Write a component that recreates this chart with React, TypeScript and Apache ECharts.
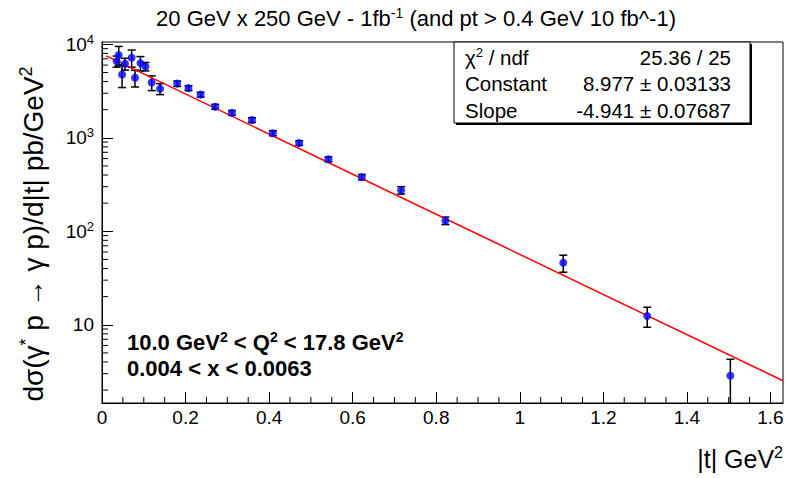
import React, { useEffect, useRef } from "react";
import * as echarts from "echarts";

// |t| bin centres (GeV^2)
const tValues = [
  0.035, 0.04, 0.048, 0.055, 0.071, 0.079, 0.092, 0.104, 0.119, 0.139,
  0.18, 0.207, 0.236, 0.271, 0.311, 0.359, 0.409, 0.472, 0.542, 0.622,
  0.716, 0.822, 1.104, 1.305, 1.504,
];
// dσ/d|t| (pb/GeV^2)
const dsigma = [
  6600, 7700, 4750, 6200, 7200, 4400, 6300, 5800, 3900, 3350,
  3800, 3400, 2900, 2150, 1850, 1550, 1120, 880, 590, 380,
  275, 130, 46, 12.4, 2.85,
];
// symmetric statistical errors
const dsigmaErr = [
  900, 1800, 1300, 900, 1500, 900, 1100, 600, 700, 450,
  250, 200, 170, 130, 110, 90, 70, 50, 35, 25,
  25, 12, 9.5, 3, 1.42,
];

// exponential fit: exp(Constant + Slope * |t|)
const fitConstant = 8.977;
const fitSlope = -4.941;
const fitRange = [0.01, 1.63];

const xRange = [0, 1.63];
const yRange = [1.455, 10600];
const xMajorStep = 0.2;
const xMinorStep = 0.05;

const statsRows = [
  { name: "{a|χ}{s|2}{a| / ndf}", value: "25.36 / 25" },
  { name: "Constant", value: "8.977 ± 0.03133" },
  { name: "Slope", value: "-4.941 ± 0.07687" },
];

const FONT = "'Liberation Sans', Arial, Helvetica, sans-serif";

function buildOption() {
  const points = tValues.map((t, i) => [t, dsigma[i]]);
  const bars = tValues.map((t, i) => [t, dsigma[i] - dsigmaErr[i], dsigma[i] + dsigmaErr[i]]);
  const fitLine = fitRange.map((t) => [t, Math.exp(fitConstant + fitSlope * t)]);

  const xMinor: number[] = [];
  for (let k = 1; k * xMinorStep < xRange[1]; k++) {
    const v = +(k * xMinorStep).toFixed(3);
    if (Math.abs(v / xMajorStep - Math.round(v / xMajorStep)) > 1e-6) xMinor.push(v);
  }
  const yMinor: number[] = [];
  for (let e = 0; e <= 4; e++) {
    for (let m = 2; m <= 9; m++) {
      const v = m * Math.pow(10, e);
      if (v > yRange[0] && v < yRange[1]) yMinor.push(v);
    }
  }

  const supStyle = (size: number) => ({
    fontFamily: FONT,
    fontSize: size,
    lineHeight: size,
    verticalAlign: "top",
    fill: "#000",
    color: "#000",
  });
  const baseStyle = (size: number, lh: number, weight = "normal") => ({
    fontFamily: FONT,
    fontSize: size,
    lineHeight: lh,
    fontWeight: weight,
    fill: "#000",
    color: "#000",
  });

  return {
    animation: false,
    backgroundColor: "#fff",
    grid: {
      left: 102,
      right: 7,
      top: 42,
      bottom: 75,
      show: true,
      borderColor: "#000",
      borderWidth: 1,
      backgroundColor: "transparent",
    },
    xAxis: {
      type: "value",
      min: xRange[0],
      max: xRange[1],
      interval: xMajorStep,
      axisLine: { show: true, lineStyle: { color: "#000", width: 1 } },
      axisTick: { show: true, inside: true, length: 11, lineStyle: { color: "#000" } },
      splitLine: { show: false },
      axisLabel: {
        show: true,
        showMaxLabel: false,
        margin: 5,
        color: "#000",
        fontFamily: FONT,
        fontSize: 19,
        formatter: (v: number) => String(+v.toFixed(1)),
      },
    },
    yAxis: {
      type: "log",
      logBase: 10,
      min: yRange[0],
      max: yRange[1],
      axisLine: { show: true, lineStyle: { color: "#000", width: 1 } },
      axisTick: { show: true, inside: true, length: 11, lineStyle: { color: "#000" } },
      splitLine: { show: false },
      axisLabel: {
        show: true,
        showMinLabel: false,
        showMaxLabel: false,
        margin: 8,
        formatter: (v: number) => {
          const e = Math.round(Math.log10(v));
          return e === 1 ? "{b|10}" : `{b|10}{s|${e}}`;
        },
        rich: {
          b: { fontFamily: FONT, fontSize: 19, lineHeight: 23, color: "#000" },
          s: { fontFamily: FONT, fontSize: 13, lineHeight: 13, verticalAlign: "top", color: "#000" },
        },
      },
    },
    graphic: [
      {
        type: "text",
        x: 416,
        y: 18,
        style: {
          text: "{a|20 GeV x 250 GeV - 1fb}{s|-1}{a| (and pt > 0.4 GeV 10 fb^-1)}",
          align: "center",
          verticalAlign: "middle",
          rich: { a: baseStyle(22, 24), s: supStyle(14) },
        },
      },
      {
        type: "text",
        x: 33,
        y: 234,
        rotation: Math.PI / 2,
        style: {
          text: "{a|dσ(γ}{s|*}{a| p → γ p)/d|t| pb/GeV}{s|2}",
          align: "center",
          verticalAlign: "middle",
          rich: { a: baseStyle(28, 32), s: supStyle(18) },
        },
      },
      {
        type: "text",
        x: 783,
        y: 459,
        style: {
          text: "{a||t| GeV}{s|2}",
          align: "right",
          verticalAlign: "middle",
          rich: { a: baseStyle(25, 30), s: supStyle(16) },
        },
      },
      {
        type: "text",
        x: 127,
        y: 342,
        style: {
          text: "{a|10.0 GeV}{s|2}{a| < Q}{s|2}{a| < 17.8 GeV}{s|2}",
          align: "left",
          verticalAlign: "middle",
          rich: {
            a: baseStyle(22, 24, "bold"),
            s: { ...supStyle(14), fontWeight: "bold" },
          },
        },
      },
      {
        type: "text",
        x: 127,
        y: 368,
        style: {
          text: "0.004 < x < 0.0063",
          fontFamily: FONT,
          fontSize: 22,
          fontWeight: "bold",
          fill: "#000",
          align: "left",
          verticalAlign: "middle",
        },
      },
      {
        type: "group",
        children: [
          {
            type: "rect",
            shape: { x: 456, y: 44, width: 296, height: 81 },
            style: { fill: "#000" },
          },
          {
            type: "rect",
            shape: { x: 454, y: 42, width: 296, height: 81 },
            style: { fill: "#fff", stroke: "#000", lineWidth: 1 },
          },
          ...statsRows.flatMap((row, i) => [
            {
              type: "text",
              x: 465,
              y: 57 + i * 26.5,
              style: {
                text: row.name.startsWith("{") ? row.name : `{a|${row.name}}`,
                align: "left",
                verticalAlign: "middle",
                rich: { a: baseStyle(20.5, 22), s: supStyle(13) },
              },
            },
            {
              type: "text",
              x: 731,
              y: 57 + i * 26.5,
              style: {
                text: row.value,
                fontFamily: FONT,
                fontSize: 20.5,
                fill: "#000",
                align: "right",
                verticalAlign: "middle",
              },
            },
          ]),
        ],
      },
    ],
    series: [
      {
        name: "x minor ticks",
        type: "custom",
        silent: true,
        data: xMinor.map((v) => [v]),
        renderItem: (_p: any, api: any) => {
          const p = api.coord([api.value(0), yRange[0]]);
          return {
            type: "line",
            shape: { x1: p[0], y1: p[1], x2: p[0], y2: p[1] - 6 },
            style: { stroke: "#000", lineWidth: 1 },
          };
        },
        z: 1,
      },
      {
        name: "y minor ticks",
        type: "custom",
        silent: true,
        data: yMinor.map((v) => [xRange[0], v]),
        renderItem: (_p: any, api: any) => {
          const p = api.coord([xRange[0], api.value(1)]);
          return {
            type: "line",
            shape: { x1: p[0], y1: p[1], x2: p[0] + 6, y2: p[1] },
            style: { stroke: "#000", lineWidth: 1 },
          };
        },
        z: 1,
      },
      {
        name: "errors",
        type: "custom",
        clip: true,
        data: bars,
        renderItem: (_p: any, api: any) => {
          const t = api.value(0);
          const lo = Math.max(api.value(1), yRange[0]);
          const hi = api.value(2);
          const top = api.coord([t, hi]);
          const bot = api.coord([t, lo]);
          const cap = 4;
          const children: any[] = [
            {
              type: "line",
              shape: { x1: top[0], y1: top[1], x2: bot[0], y2: bot[1] },
              style: { stroke: "#000", lineWidth: 1.5 },
            },
            {
              type: "line",
              shape: { x1: top[0] - cap, y1: top[1], x2: top[0] + cap, y2: top[1] },
              style: { stroke: "#000", lineWidth: 1.5 },
            },
          ];
          if (api.value(1) > yRange[0]) {
            children.push({
              type: "line",
              shape: { x1: bot[0] - cap, y1: bot[1], x2: bot[0] + cap, y2: bot[1] },
              style: { stroke: "#000", lineWidth: 1.5 },
            });
          }
          return { type: "group", children };
        },
        z: 2,
      },
      {
        name: "fit",
        type: "line",
        data: fitLine,
        showSymbol: false,
        clip: true,
        lineStyle: { color: "#ff0000", width: 1.5 },
        z: 3,
      },
      {
        name: "data",
        type: "scatter",
        data: points,
        symbol: "circle",
        symbolSize: 8,
        itemStyle: { color: "#0000ff" },
        z: 4,
      },
    ],
  };
}

export default function App() {
  const ref = useRef<HTMLDivElement>(null);
  useEffect(() => {
    if (!ref.current) return;
    const chart = echarts.init(ref.current, undefined, { renderer: "svg" });
    chart.setOption(buildOption() as any);
    return () => chart.dispose();
  }, []);
  return (
    <div
      ref={ref}
      style={{ position: "fixed", left: 0, top: 0, width: 790, height: 478, background: "#fff" }}
    />
  );
}
